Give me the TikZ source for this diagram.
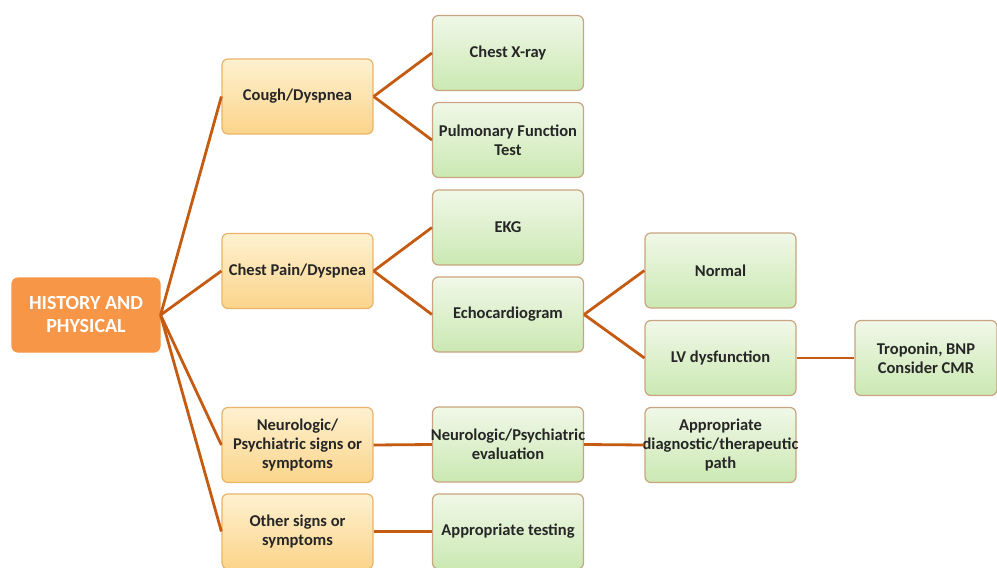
\documentclass[tikz,border=0pt]{standalone}
\usepackage{fontspec}
\setmainfont{Carlito}
\definecolor{linecol}{HTML}{C55A11}
\definecolor{hpfill}{HTML}{F79646}
\definecolor{otop}{HTML}{FEF1D0}
\definecolor{obot}{HTML}{FBD48A}
\definecolor{oborder}{HTML}{E9B46A}
\definecolor{gtop}{HTML}{F0F8E8}
\definecolor{gbot}{HTML}{CBE8B2}
\definecolor{gborder}{HTML}{C9A47E}
\definecolor{txt}{HTML}{262626}
\tikzset{
  box/.style={rectangle, rounded corners=6pt, minimum width=151pt, minimum height=75pt,
    inner xsep=-6pt, inner ysep=0pt, align=center, text=txt, line width=1.2pt,
    font=\fontsize{16.5}{19}\selectfont\bfseries},
  obox/.style={box, draw=oborder, top color=otop, bottom color=obot},
  gbox/.style={box, draw=gborder, top color=gtop, bottom color=gbot},
  hpbox/.style={box, fill=hpfill, draw=hpfill, text=white, minimum width=148pt, minimum height=74pt,
    font=\fontsize{20}{23}\selectfont\bfseries},
  conn/.style={draw=linecol, line width=2.8pt}
}
\begin{document}
\begin{tikzpicture}[x=1pt,y=-1pt]
\useasboundingbox (0,0) rectangle (997,568);
\node[hpbox] (hp) at (86,315) {HISTORY AND\\PHYSICAL};
\node[obox] (cough) at (297.5,96.5) {Cough/Dyspnea};
\node[obox] (cp) at (297.5,271) {Chest Pain/Dyspnea};
\node[obox] (neuro) at (297.5,445) {Neurologic/\\Psychiatric signs or\\symptoms};
\node[obox] (other) at (297.5,531.5) {Other signs or\\symptoms};
\node[gbox] (cxr) at (508,53) {Chest X-ray};
\node[gbox] (pft) at (508,140) {Pulmonary Function\\Test};
\node[gbox] (ekg) at (508,227.5) {EKG};
\node[gbox] (echo) at (508,314.5) {Echocardiogram};
\node[gbox] (neval) at (508,444.5) {Neurologic/Psychiatric\\evaluation};
\node[gbox] (atest) at (508,531.5) {Appropriate testing};
\node[gbox] (normal) at (720.5,270.5) {Normal};
\node[gbox] (lv) at (720.5,358) {LV dysfunction};
\node[gbox] (adp) at (720.5,445) {Appropriate\\diagnostic/therapeutic\\path};
\node[gbox, minimum width=142pt] (trop) at (926,358) {Troponin, BNP\\Consider CMR};
\draw[conn] (hp.east) -- (cough.west);
\draw[conn] (hp.east) -- (cp.west);
\draw[conn] (hp.east) -- (neuro.west);
\draw[conn] (hp.east) -- (other.west);
\draw[conn] (cough.east) -- (cxr.west);
\draw[conn] (cough.east) -- (pft.west);
\draw[conn] (cp.east) -- (ekg.west);
\draw[conn] (cp.east) -- (echo.west);
\draw[conn] (echo.east) -- (normal.west);
\draw[conn] (echo.east) -- (lv.west);
\draw[conn] (lv.east) -- (trop.west);
\draw[conn] (neuro.east) -- (neval.west);
\draw[conn] (neval.east) -- (adp.west);
\draw[conn] (other.east) -- (atest.west);
\end{tikzpicture}
\end{document}
